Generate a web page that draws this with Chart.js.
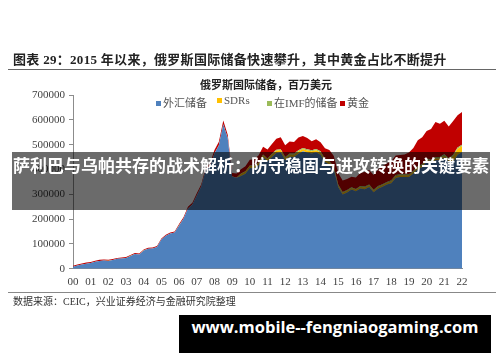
<!DOCTYPE html>
<html>
<head>
<meta charset="utf-8">
<script src="https://cdn.jsdelivr.net/npm/chart.js@4"></script>
<style>
  html, body { margin:0; padding:0; background:#fff; }
  #wrap { position:relative; width:500px; height:362px; overflow:hidden; background:#fff; }
  #c { position:absolute; left:0; top:0; }
  .abs { position:absolute; white-space:nowrap; }
  #title { left:13px; top:49px; font:bold 13px "Liberation Serif","Noto Sans CJK SC",serif; color:#222; letter-spacing:0.3px; }
  #rule1 { left:8px; top:69px; width:488px; height:1px; background:#666; }
  #rule2 { left:8px; top:292px; width:488px; height:1px; background:#888; }
  #ctitle { left:200px; top:76px; width:132px; text-align:center; font:bold 11px "Liberation Serif","Noto Sans CJK SC",serif; color:#222; }
  #legend { left:0; top:94px; font:11px "Liberation Serif","Noto Sans CJK SC",serif; color:#555; }
  .lg { position:absolute; top:0; white-space:nowrap; }
  .lg i { display:inline-block; width:5px; height:5px; margin-right:2px; vertical-align:1px; }
  #src { left:13px; top:293px; font:10px "Liberation Serif","Noto Sans CJK SC",serif; color:#333; }
  #band { left:12px; top:152px; width:478px; height:58px; background:rgba(0,0,0,0.58); }
  #bandtxt { left:12px; top:152px; width:478px; height:58px; line-height:58px; text-align:center; font:bold 17px "Noto Sans CJK SC",sans-serif; color:#fff; }
  #wm { left:179px; top:315px; width:312px; height:38px; line-height:38px; background:#000; color:#fff; text-align:center; font:bold 16.5px "Open Sans","DejaVu Sans",sans-serif; }
</style>
</head>
<body>
<div id="wrap">
  <canvas id="c" width="500" height="362"></canvas>
  <div class="abs" id="title">图表 29：2015 年以来，俄罗斯国际储备快速攀升，其中黄金占比不断提升</div>
  <div class="abs" id="rule1"></div>
  <div class="abs" id="ctitle">俄罗斯国际储备，百万美元</div>
  <div class="abs" id="legend"></div>
  <div class="abs" id="rule2"></div>
  <div class="abs" id="src">数据来源：CEIC，兴业证券经济与金融研究院整理</div>
  <div class="abs" id="band"></div>
  <div class="abs" id="bandtxt">萨利巴与乌帕共存的战术解析：防守稳固与进攻转换的关键要素</div>
  <div class="abs" id="wm">www.mobile--fengniaogaming.com</div>
</div>
<script>
// Years shown on the x axis (quarterly data, Q1 2000 .. Q1 2022)
const years = ["00","01","02","03","04","05","06","07","08","09","10","11","12","13","14","15","16","17","18","19","20","21","22"];
const seriesNames = ["外汇储备","SDRs","在IMF的储备","黄金"];
const seriesColors = ["#4f81bd","#ffc000","#9bbb59","#c00000"];

// 外汇储备 (million USD)
const fxReserves = [
  8400,12900,17400,20700, 23400,27900,31800,33400, 31900,35400,40000,41500,
  43900,52000,59900,57700, 74200,81100,82000,87900, 118200,133000,142000,145700,
  174800,201400,242800,258600, 295400,331000,395500,413100, 464700,497700,582200,525900,
  370400,366900,373500,382400, 405500,405100,417500,449400, 433100,450600,466500,469000,
  437200,451200,450300,463300, 473400,468200,464500,469100, 459600,429700,419900,399800,
  329200,299500,307300,318900, 312200,323000,320800,329600, 308000,322800,330400,339200,
  345000,365500,369400,369600, 369400,383500,402300,409300, 433200,426100,437600,437600,
  448600,432800,429300,459500, 470500
];
// SDRs
const sdrs = [
  100,100,100,100, 100,100,100,100, 100,100,100,100,
  100,100,100,100, 100,100,100,100, 100,100,100,100,
  100,100,100,100, 100,100,100,100, 100,100,100,100,
  100,100,8900,9100, 9200,8800,8900,9000, 9100,9400,9300,9000,
  8900,8800,8800,8900, 8800,8600,8500,8800, 8800,8900,8800,8300,
  7600,7300,7000,6900, 6900,7100,7000,6700, 6600,6700,6900,7000,
  7100,7200,7000,6900, 7000,6900,7000,6900, 6900,6900,7100,7100,
  7100,7000,24400,24200, 24000
];
// 在IMF的储备
const imfPosition = [
  0,0,0,0, 0,0,0,0, 0,0,0,0,
  0,0,0,0, 0,0,0,0, 0,0,0,0,
  100,100,100,100, 100,100,100,100, 200,200,200,500,
  900,1000,1100,1100, 1500,1700,1900,2000, 2500,3000,3600,4000,
  4500,4700,4800,4800, 4800,4600,4500,4600, 4600,4400,4300,3900,
  3200,2900,2700,2600, 2700,3400,3500,3400, 3400,3500,3700,3800,
  4500,4700,4600,4500, 4600,4600,4700,4800, 4900,5000,5300,5300,
  5300,5200,5300,5300, 5500
];
// 黄金
const gold = [
  4000,4000,4000,4200, 4000,4000,4100,4000, 4000,4000,3900,3900,
  4000,3900,4000,4200, 3700,3800,3900,4000, 3700,3900,3900,4200,
  5000,6400,7000,7200, 8400,8800,9300,10700, 13000,14000,14500,13500,
  14600,16000,17500,20400, 22800,25400,28700,31600, 35300,40000,44600,48000,
  47400,48300,47100,52000, 48000,45600,36500,39500, 37000,43000,45000,42000,
  46000,46300,45000,42600, 46200,53500,58700,58300, 60000,67000,72000,74000,
  76400,78600,77000,79000, 87000,92000,104000,109000, 110000,125000,141000,134000,
  135000,128000,136000,129000, 132000
];
const yTicks = [0,100000,200000,300000,400000,500000,600000,700000];

// quarterly category labels
const labels = [];
years.forEach((y, i) => {
  labels.push(y);
  if (i < years.length - 1) { labels.push(y + "Q2"); labels.push(y + "Q3"); labels.push(y + "Q4"); }
});

// HTML legend
const legendPos = [156, 217, 267, 340];
const legendEl = document.getElementById('legend');
seriesNames.forEach((n, i) => {
  const d = document.createElement('div');
  d.className = 'lg';
  d.style.left = legendPos[i] + 'px';
  d.innerHTML = '<i style="background:' + seriesColors[i] + '"></i>' + n;
  legendEl.appendChild(d);
});

const allSeries = [fxReserves, sdrs, imfPosition, gold];
const datasets = allSeries.map((arr, i) => ({
  label: seriesNames[i],
  data: arr,
  backgroundColor: seriesColors[i],
  borderColor: seriesColors[i],
  borderWidth: 0,
  pointRadius: 0,
  tension: 0,
  fill: i === 0 ? 'origin' : '-1'
}));

const axisFont = { family: '"Liberation Serif", serif', size: 11 };
new Chart(document.getElementById('c'), {
  type: 'line',
  data: { labels, datasets },
  options: {
    responsive: false,
    animation: false,
    devicePixelRatio: 1,
    layout: { padding: { left: 28, right: 38, top: 95, bottom: 70 } },
    plugins: { legend: { display: false }, title: { display: false }, tooltip: { enabled: false } },
    elements: { line: { borderWidth: 0 } },
    scales: {
      x: {
        type: 'category',
        offset: false,
        grid: { display: true, drawOnChartArea: false, color: 'rgba(0,0,0,0)', tickLength: 4 },
        border: { display: true, color: '#8c8c8c', width: 1 },
        ticks: {
          autoSkip: false, maxRotation: 0, minRotation: 0, padding: 3,
          color: '#404040', font: axisFont,
          callback: function (v, idx) { return idx % 4 === 0 ? labels[idx] : ''; }
        }
      },
      y: {
        stacked: true,
        min: 0, max: 700000,
        afterBuildTicks: (s) => { s.ticks = yTicks.map(v => ({ value: v })); },
        grid: { display: true, drawOnChartArea: false, color: '#8c8c8c', tickLength: 4 },
        border: { display: true, color: '#8c8c8c', width: 1 },
        ticks: { padding: 4, color: '#404040', font: axisFont, callback: (v) => String(v) }
      }
    }
  }
});
</script>
</body>
</html>
